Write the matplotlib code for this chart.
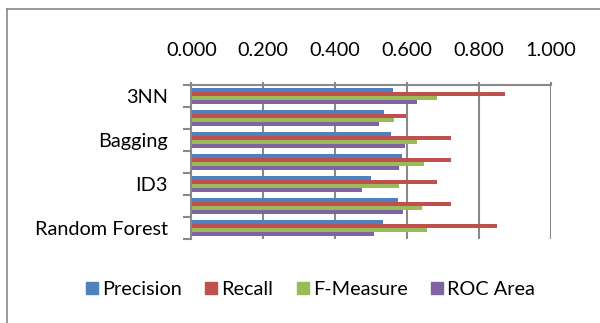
import matplotlib
matplotlib.use("Agg")
import matplotlib.pyplot as plt
import numpy as np
from matplotlib.ticker import FixedLocator
from matplotlib.lines import Line2D

plt.rcParams['font.family'] = ['Lato', 'DejaVu Sans']

# данные
categories = ['3NN', '1NN', 'Bagging', 'Boosting', 'ID3', 'J48', 'Random Forest']
series = ['Precision', 'Recall', 'F-Measure', 'ROC Area']
precision = [0.562, 0.537, 0.556, 0.586, 0.499, 0.576, 0.532]
recall = [0.872, 0.596, 0.723, 0.723, 0.684, 0.723, 0.851]
f_measure = [0.683, 0.565, 0.629, 0.647, 0.578, 0.641, 0.655]
roc_area = [0.628, 0.522, 0.594, 0.579, 0.474, 0.589, 0.507]
colors = ['#4F81BD', '#C0504D', '#9BBB59', '#8064A2']
xticks = [0.0, 0.2, 0.4, 0.6, 0.8, 1.0]

values = [precision, recall, f_measure, roc_area]
grey = '#898989'
fs = 14.3

fig = plt.figure(figsize=(6, 3.23), dpi=100)
ax = fig.add_axes([0.319, 0.260, 0.599, 0.477])

y = np.arange(len(categories))
h = 0.182
for j, (name, vals) in enumerate(zip(series, values)):
    ax.barh(y + (j - 1.5) * h, vals, height=h, color=colors[j], label=name)

ax.set_ylim(len(categories) - 0.5, -0.5)
ax.set_xlim(0, 1.0)

# ось значений сверху
ax.xaxis.tick_top()
ax.set_xticks(xticks)
ax.set_xticklabels([f'{v:.3f}' for v in xticks])
ax.tick_params(axis='x', length=2, pad=17, labelsize=fs, color=grey, width=1.5)
ax.grid(axis='x', color=grey, linewidth=1.5)
ax.set_axisbelow(True)

# деления на границах категорий, подписи через одну
ax.yaxis.set_major_locator(FixedLocator(np.arange(len(categories) + 1) - 0.5))
ax.yaxis.set_major_formatter(plt.NullFormatter())
ax.yaxis.set_minor_locator(FixedLocator(y))
ax.set_yticklabels([c if i % 2 == 0 else '' for i, c in enumerate(categories)], minor=True)
ax.tick_params(axis='y', which='major', length=6, color=grey, width=1.5)
ax.tick_params(axis='y', which='minor', length=0, pad=17, labelsize=fs)

for s in ['right', 'bottom']:
    ax.spines[s].set_visible(False)
for s in ['left', 'top']:
    ax.spines[s].set_color(grey)
    ax.spines[s].set_linewidth(1.5)

# рамка диаграммы
fig.add_artist(Line2D([7 / 600, 7 / 600], [0, 1 - 9 / 323], color=grey, lw=1.2))
fig.add_artist(Line2D([7 / 600, 1], [1 - 9 / 323, 1 - 9 / 323], color=grey, lw=1.2))

handles = [Line2D([], [], marker='s', linestyle='none', markersize=9,
                  markerfacecolor=c, markeredgecolor=c) for c in colors]
fig.legend(handles, series, loc='center', bbox_to_anchor=(0.516, 0.105), ncol=4,
           frameon=False, fontsize=fs, handletextpad=0.1, columnspacing=1.1,
           handlelength=0.8)

fig.savefig('out.png', dpi=100)
